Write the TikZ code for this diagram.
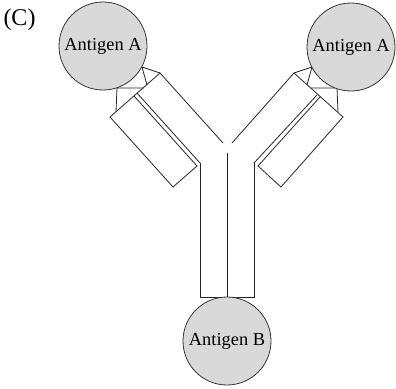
\documentclass[tikz,border=0pt]{standalone}
\usepackage{fontspec}
\setmainfont{Liberation Serif}
\definecolor{antigengray}{gray}{0.85}
\tikzset{
	antigen/.style={shape=circle,draw=black!80,fill=antigengray,line width=0.8pt,minimum size=88pt,inner sep=0pt,font=\fontsize{18.4}{20}\selectfont},
	chain/.style={draw=black!85,line width=0.8pt}
}
\begin{document}
\begin{tikzpicture}[x=1pt,y=-1pt]
	\useasboundingbox (0,0) rectangle (396,388);
	\node[shape=rectangle,inner sep=0pt,font=\fontsize{24}{26}\selectfont](c) at (19.5,20){(C)};
	% trunk
	\coordinate(p1) at (200,163);
	\coordinate(p2) at (200,297);
	\coordinate(p3) at (254,297);
	\coordinate(p4) at (254,163);
	\coordinate(p5) at (227,153);
	\coordinate(p6) at (227,297);
	\draw[chain] (p1) -- (p2) -- (p3) -- (p4);
	\draw[chain] (p5) -- (p6);
	% left arm
	\coordinate(l1) at (160,73);
	\coordinate(l2) at (223,143);
	\coordinate(l3) at (110,117);
	\coordinate(l4) at (173,187);
	\coordinate(l5) at (197,166);
	\coordinate(l6) at (134,96);
	\coordinate(l7) at (137,93);
	\draw[chain] (l2) -- (l1) -- (l3) -- (l4) -- (l5) -- (l6);
	\draw[chain] (l7) -- (p1);
	% left hinge
	\coordinate(l8) at (116,112);
	\coordinate(l9) at (117,88);
	\coordinate(l10) at (144,88);
	\coordinate(l11) at (142,67);
	\coordinate(l12) at (147,85);
	\draw[chain] (l8) -- (l9) -- (l10);
	\draw[chain] (l1) -- (l11) -- (l12);
	% right arm
	\coordinate(r1) at (294,73);
	\coordinate(r2) at (232,143);
	\coordinate(r3) at (343,117);
	\coordinate(r4) at (281,187);
	\coordinate(r5) at (258,166);
	\coordinate(r6) at (320,97);
	\coordinate(r7) at (317,95);
	\draw[chain] (r2) -- (r1) -- (r3) -- (r4) -- (r5) -- (r6);
	\draw[chain] (r7) -- (p4);
	% right hinge
	\coordinate(r8) at (338,112);
	\coordinate(r9) at (337,88);
	\coordinate(r10) at (311,88);
	\coordinate(r11) at (312,67);
	\coordinate(r12) at (307,85);
	\draw[chain] (r8) -- (r9) -- (r10);
	\draw[chain] (r1) -- (r11) -- (r12);
	% antigens
	\node[antigen](a) at (103,46){Antigen A};
	\node[antigen](b) at (351,47){Antigen A};
	\node[antigen](d) at (227,341){Antigen B};
\end{tikzpicture}
\end{document}
